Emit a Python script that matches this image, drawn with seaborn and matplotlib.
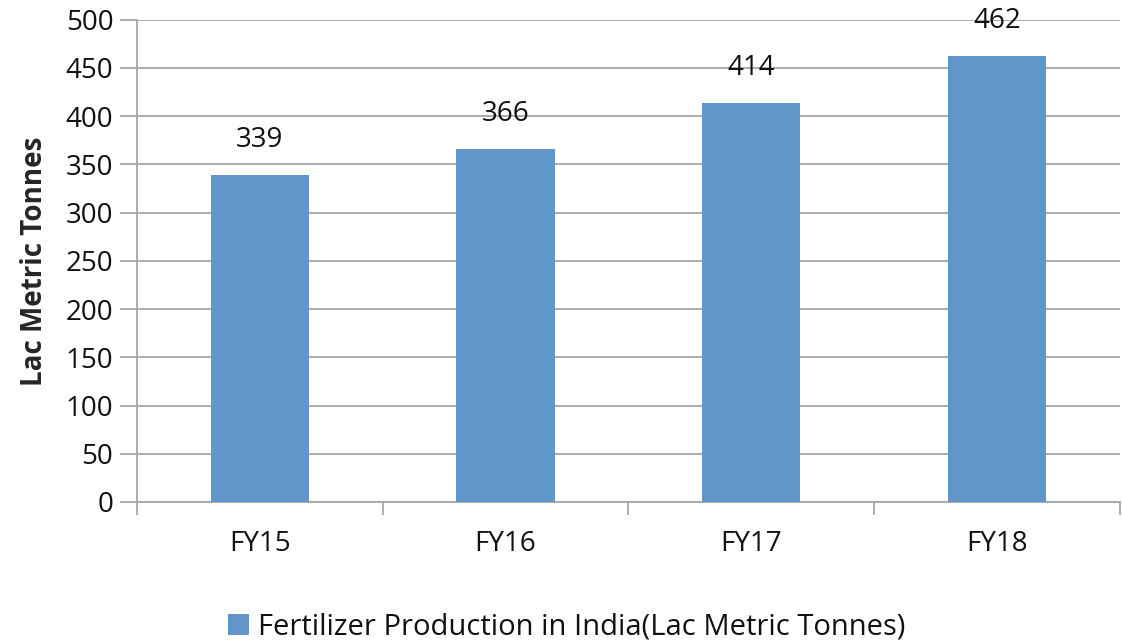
import seaborn as sns
import matplotlib.pyplot as plt
import pandas as pd

years = ['FY15', 'FY16', 'FY17', 'FY18']
production = [339, 366, 414, 462]
series_name = 'Fertilizer Production in India(Lac Metric Tonnes)'

df = pd.DataFrame({'year': years, 'production': production})

sns.set_style('white')
plt.rcParams['font.family'] = ['Open Sans', 'DejaVu Sans']

fig = plt.figure(figsize=(11.22, 6.44), dpi=100)
ax = fig.add_axes([0.1221, 0.2205, 0.876, 0.749])

bar_color = '#6096C9'
sns.barplot(data=df, x='year', y='production', color=bar_color, width=0.4,
            saturation=1, ax=ax, label=series_name, zorder=3, linewidth=0,
            edgecolor='none')

for i, v in enumerate(production):
    ax.annotate(str(v), (i, v), xytext=(0, 15), textcoords='offset points',
                ha='center', va='bottom', fontsize=20, color='#111111')

ax.set_ylim(0, 500)
ax.set_xlim(-0.5, 3.5)
ax.set_yticks(range(0, 501, 50))
ax.yaxis.grid(True, color='#a6a6a6', linewidth=1.3, zorder=0)
ax.tick_params(axis='y', labelsize=20, length=12, width=1.3, color='#a6a6a6', pad=5,
               left=True, labelcolor='#111111')
ax.tick_params(axis='x', which='major', labelsize=20, length=0, pad=20,
               labelcolor='#111111')
ax.set_xticks([-0.5, 0.5, 1.5, 2.5, 3.5], minor=True)
ax.tick_params(axis='x', which='minor', length=9, width=1.3, color='#a6a6a6',
               bottom=True)

for s in ['top', 'right']:
    ax.spines[s].set_visible(False)
for s in ['left', 'bottom']:
    ax.spines[s].set_color('#a6a6a6')
    ax.spines[s].set_linewidth(1.3)

ax.set_xlabel('')
ax.set_ylabel('Lac Metric Tonnes', fontsize=20, fontweight='bold', labelpad=12)

ax.legend(loc='center', bbox_to_anchor=(0.437, -0.26), frameon=False,
          fontsize=21, handlelength=0.75, handleheight=0.75, handletextpad=0.3,
          labelcolor='#111111')

fig.savefig('out.png', dpi=100)
